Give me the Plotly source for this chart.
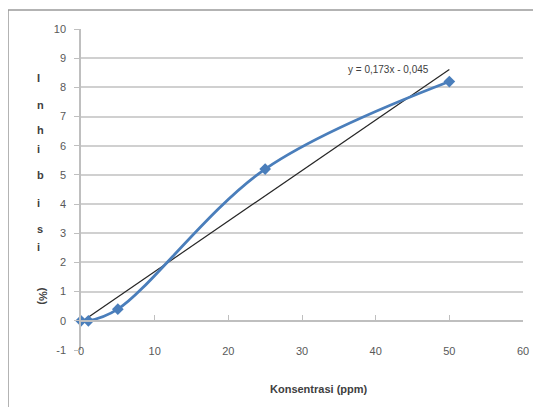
import numpy as np
import plotly.graph_objects as go

# Data
konsentrasi = [0, 1, 5, 25, 50]
inhibisi = [0, 0, 0.4, 5.2, 8.2]
x_ticks = [0, 10, 20, 30, 40, 50, 60]
y_ticks = [-1, 0, 1, 2, 3, 4, 5, 6, 7, 8, 9, 10]
y_tick_labels = ["-1", "0", "1", "2", "3", "4", "5", "6", "7", "8", "9", "10"]
y_title_letters = ["I", "n", "h", "i", "b", "i", "s", "i"]
y_title_unit = "(%)"
x_title = "Konsentrasi (ppm)"
slope, intercept = np.polyfit(konsentrasi, inhibisi, 1)
eq_text = "y = 0,173x - 0,045"

FONT = "Liberation Sans, Arial, sans-serif"
GRID = "#d0d0d0"
TICKC = "#595959"

# page body has an 8px margin: figure pixel = reference pixel - 8
OFF = 8
L, R, T, B = 81 - OFF, 18, 29 - OFF, 57
W, H = 541 - OFF, 407 - OFF
PW, PH = W - L - R, H - T - B


def px(xr):
    return (xr - OFF - L) / PW


def py(yr):
    return (H - B - (yr - OFF)) / PH


fig = go.Figure()

tx = np.array([0, 50])
fig.add_trace(go.Scatter(
    x=tx, y=slope * tx + intercept, mode="lines",
    line=dict(color="#262626", width=1.2), hoverinfo="skip", cliponaxis=False))

fig.add_trace(go.Scatter(
    x=konsentrasi, y=inhibisi, mode="lines+markers",
    line=dict(color="#4a7ebb", width=2.8, shape="spline", smoothing=1.0),
    marker=dict(symbol="diamond", size=9, color="#4a7ebb"),
    cliponaxis=False))

fig.update_layout(
    width=W, height=H,
    margin=dict(l=L, r=R, t=T, b=B, autoexpand=False),
    paper_bgcolor="white", plot_bgcolor="white",
    showlegend=False,
    font=dict(family=FONT, size=11, color=TICKC),
    xaxis=dict(range=[0, 60], tickvals=x_ticks, showgrid=False, zeroline=False,
               anchor="free", position=1/11, automargin=False,
               showline=True, linecolor="#bfbfbf", linewidth=1.5,
               ticks="inside", ticklen=5, tickcolor="#bfbfbf", ticklabelstandoff=20,
               tickfont=dict(family=FONT, size=11, color=TICKC)),
    yaxis=dict(range=[-1, 10], tickvals=y_ticks, ticktext=y_tick_labels,
               showgrid=True, gridcolor=GRID, automargin=False,
               gridwidth=1.5, zeroline=False,
               showline=True, linecolor="#bfbfbf", linewidth=1.5,
               ticks="outside", ticklen=5, tickcolor="#bfbfbf", ticklabelstandoff=6,
               tickfont=dict(family=FONT, size=11, color=TICKC)),
)

# chart border
fig.add_shape(type="rect", xref="paper", yref="paper",
              x0=px(8), x1=1.3, y0=-0.4, y1=py(10),
              line=dict(color="#9a9a9a", width=1.5), layer="above")

# y title: stacked letters
ypix = [70, 97, 122, 149, 175, 203, 229, 255]
for ch, yp in zip(y_title_letters, ypix):
    fig.add_annotation(text=f"<b>{ch}</b>", xref="paper", yref="paper",
                       x=px(35), y=py(yp), showarrow=False,
                       font=dict(family=FONT, size=11, color="#404040"))
fig.add_annotation(text=f"<b>{y_title_unit}</b>", xref="paper", yref="paper",
                   x=px(35), y=py(306), showarrow=False, textangle=90,
                   font=dict(family=FONT, size=11, color="#404040"))

fig.add_annotation(text=f"<b>{x_title}</b>", xref="paper", yref="paper",
                   x=px(319), y=py(397), showarrow=False,
                   font=dict(family=FONT, size=11, color="#404040"))

fig.add_annotation(text=eq_text, x=41.7, y=8.62, showarrow=False,
                   font=dict(family=FONT, size=10, color="#404040"))

fig.write_html("out.html")
